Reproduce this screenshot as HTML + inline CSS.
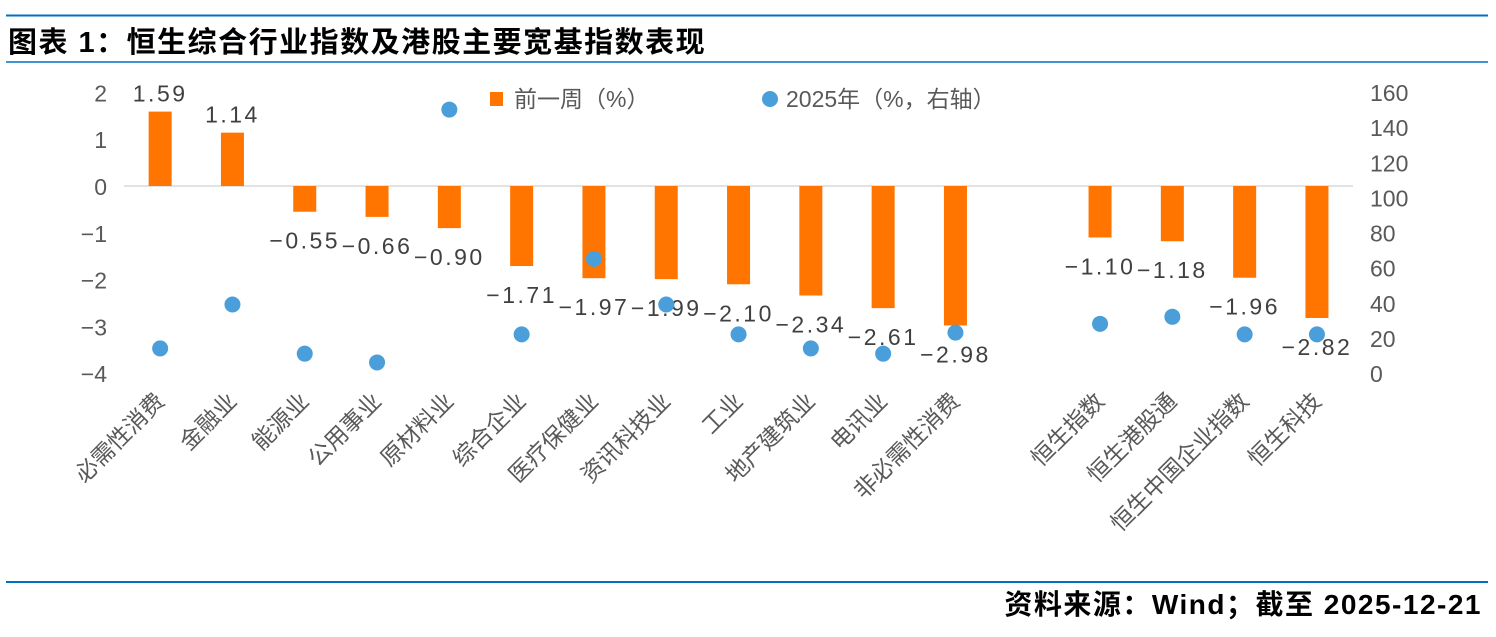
<!DOCTYPE html>
<html><head><meta charset="utf-8"><style>
body{margin:0;background:#fff;width:1496px;height:632px;overflow:hidden;font-family:"Liberation Sans","Noto Sans CJK SC",sans-serif;}
svg text{font-family:"Liberation Sans","Noto Sans CJK SC",sans-serif;}
</style></head><body>
<svg width="1496" height="632">
<line x1="6" y1="15.5" x2="1488" y2="15.5" stroke="#0070c0" stroke-width="2"/>
<text x="8" y="52" font-size="29" font-weight="bold" letter-spacing="1.5" fill="#000">图表 1：恒生综合行业指数及港股主要宽基指数表现</text>
<line x1="6" y1="62" x2="1488" y2="62" stroke="#0070c0" stroke-width="1.5"/>
<line x1="6" y1="582" x2="1488" y2="582" stroke="#0070c0" stroke-width="2"/>
<text x="1482" y="614" font-size="28" font-weight="bold" letter-spacing="1.5" text-anchor="end" fill="#000">资料来源：Wind；截至 2025-12-21</text>
<g id="plot"></g>
</svg>
<script>
const categories=["必需性消费","金融业","能源业","公用事业","原材料业","综合企业","医疗保健业","资讯科技业","工业","地产建筑业","电讯业","非必需性消费","","恒生指数","恒生港股通","恒生中国企业指数","恒生科技"];
const weekly=[1.59,1.14,-0.55,-0.66,-0.90,-1.71,-1.97,-1.99,-2.10,-2.34,-2.61,-2.98,null,-1.10,-1.18,-1.96,-2.82];
const ytd=[14,39,11,6,150,22,65,39,22,14,11,23,null,28,32,22,22];
const leftTicks=[2,1,0,-1,-2,-3,-4];
const rightTicks=[160,140,120,100,80,60,40,20,0];
const NS="http://www.w3.org/2000/svg";
const g=document.getElementById('plot');
const x0=124,slot=72.3,zeroY=186,unit=46.8;
const yL=v=>zeroY-v*unit;
const yR=v=>373-v*281/160;
const cx=i=>x0+slot*(i+0.5);
function mk(t,a,txt){const e=document.createElementNS(NS,t);for(const k in a)e.setAttribute(k,a[k]);if(txt!==undefined)e.textContent=txt;g.appendChild(e);return e;}
leftTicks.forEach(v=>{const t=mk('text',{x:107,y:yL(v)+9,'font-size':23,'text-anchor':'end',fill:'#595959'},(v<0?'−':'')+Math.abs(v));

});
rightTicks.forEach(v=>{const t=mk('text',{x:1370,y:yR(v)+9,'font-size':23,fill:'#595959'},String(v));

});
const base=mk('line',{x1:124,y1:zeroY,x2:1353,y2:zeroY,stroke:'#d9d9d9','stroke-width':1.5});


categories.forEach((c,i)=>{
 const x=cx(i);
 if(weekly[i]!==null){
  const v=weekly[i];const top=Math.min(yL(v),zeroY),h=Math.abs(yL(v)-zeroY);
  const r=mk('rect',{x:x-11.5,y:top,width:23,height:h,fill:'#ff7500'});
  
  
  const lbl=(v<0?'−':'')+Math.abs(v).toFixed(2);
  const ly=v>=0?yL(v)-10:yL(v)+37;
  const t=mk('text',{x:x,y:ly,'font-size':23,'text-anchor':'middle',fill:'#404040','letter-spacing':'2.5'},lbl);
  
  
 }
 if(ytd[i]!==null){
  const d=mk('circle',{cx:x,cy:yR(ytd[i]),r:8,fill:'#4a9ed9'});
  
  
 }
 if(c){
  const t=mk('text',{x:0,y:0,'font-size':23,'text-anchor':'end','dominant-baseline':'central',fill:'#595959',transform:`translate(${x},${397}) rotate(-45)`},c);
  
  
 }
});
let e=mk('rect',{x:490,y:92,width:13,height:14,fill:'#ff7500'});


e=mk('text',{x:514,y:107,'font-size':23,fill:'#595959'},'前一周（%）');


e=mk('circle',{cx:770,cy:99,r:8,fill:'#4a9ed9'});


e=mk('text',{x:786,y:107,'font-size':23,fill:'#595959'},'2025年（%，右轴）');


</script>
</body></html>
